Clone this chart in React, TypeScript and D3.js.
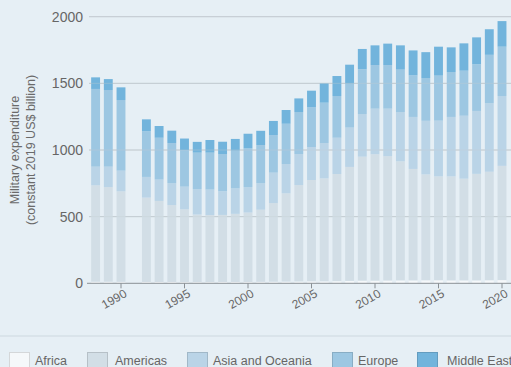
import React from "react";
import * as d3 from "d3";

const years = [1988, 1989, 1990, 1992, 1993, 1994, 1995, 1996, 1997, 1998, 1999, 2000, 2001, 2002, 2003, 2004, 2005, 2006, 2007, 2008, 2009, 2010, 2011, 2012, 2013, 2014, 2015, 2016, 2017, 2018, 2019, 2020];
const africa = [12, 12, 11, 10, 10, 10, 9, 9, 9, 10, 10, 10, 11, 12, 13, 14, 15, 15, 16, 18, 20, 20, 21, 22, 22, 23, 23, 22, 22, 22, 23, 24];
const americas = [723, 710, 679, 633, 608, 577, 546, 507, 503, 503, 511, 521, 541, 590, 662, 723, 760, 772, 804, 855, 930, 948, 933, 893, 836, 794, 779, 780, 763, 799, 814, 857];
const asiaOceania = [140, 153, 155, 155, 160, 165, 170, 191, 191, 177, 191, 191, 200, 228, 220, 233, 247, 265, 272, 295, 320, 342, 356, 370, 390, 402, 418, 446, 472, 472, 515, 524];
const europe = [583, 575, 530, 342, 314, 300, 275, 273, 277, 280, 283, 290, 285, 282, 302, 315, 300, 303, 313, 330, 336, 327, 327, 318, 312, 321, 338, 337, 338, 350, 362, 370];
const middleEast = [87, 82, 95, 90, 88, 93, 86, 81, 95, 92, 88, 110, 107, 106, 103, 102, 123, 145, 150, 142, 152, 148, 161, 182, 187, 194, 217, 185, 205, 202, 192, 192];

const seriesNames = ["Africa", "Americas", "Asia and Oceania", "Europe", "Middle East"];
const seriesColors = ["#f5f8fa", "#d2dee6", "#bad4e7", "#9dc7e2", "#72b4dc"];
const yTicks = [0, 500, 1000, 1500, 2000];
const xTickYears = [1990, 1995, 2000, 2005, 2010, 2015, 2020];
const yTitle = ["Military expenditure", "(constant 2019 US$ billion)"];

const W = 511;
const H = 367;
const FONT = "'Liberation Sans', Arial, sans-serif";

export default function App() {
  const rows = years.map((y, i) => ({
    year: y,
    Africa: africa[i],
    Americas: americas[i],
    "Asia and Oceania": asiaOceania[i],
    Europe: europe[i],
    "Middle East": middleEast[i],
  }));
  const stacked = d3.stack<any>().keys(seriesNames)(rows);

  const x = d3
    .scaleBand<number>()
    .domain(d3.range(1988, 2021))
    .range([89.25, 508.35])
    .paddingInner(0.3)
    .paddingOuter(0.15);
  const y = d3.scaleLinear().domain([0, 2000]).range([283.3, 16.7]);
  const cx = (yr: number) => (x(yr) as number) + x.bandwidth() / 2;

  const legendBox = [9, 87, 187, 332, 417];
  const legendText = [35, 115, 213, 358, 447];

  return (
    <svg
      width={W}
      height={H}
      style={{ position: "absolute", left: 0, top: 0, display: "block" }}
      fontFamily={FONT}
    >
      <rect x={0} y={0} width={W} height={H} fill="#e6eff5" />
      {yTicks.slice(1).map((t) => (
        <line key={"g" + t} x1={89} x2={W} y1={y(t)} y2={y(t)} stroke="#c3ccd2" strokeWidth={1} />
      ))}
      {stacked.map((s, si) => (
        <g key={s.key} fill={seriesColors[si]}>
          {s.map((d: any) => (
            <rect
              key={d.data.year}
              x={x(d.data.year)}
              width={x.bandwidth()}
              y={y(d[1])}
              height={Math.max(0, y(d[0]) - y(d[1]))}
            />
          ))}
        </g>
      ))}
      {yTicks.slice(1).map((t) => (
        <line key={"go" + t} x1={89} x2={W} y1={y(t)} y2={y(t)} stroke="#c3ccd2" strokeOpacity={0.35} strokeWidth={1} />
      ))}
      <line x1={87} x2={W} y1={y(0)} y2={y(0)} stroke="#8a9095" strokeWidth={1} />
      {xTickYears.map((t) => (
        <g key={"xt" + t}>
          <line x1={cx(t)} x2={cx(t)} y1={y(0)} y2={y(0) + 5} stroke="#8a9095" strokeWidth={1} />
          <text
            transform={`translate(${cx(t) - 7},${299}) rotate(-30)`}
            textAnchor="middle"
            dy="0.35em"
            fontSize={12}
            fill="#666"
          >
            {t}
          </text>
        </g>
      ))}
      {yTicks.map((t) => (
        <text key={"yt" + t} x={83} y={y(t)} dy="0.35em" textAnchor="end" fontSize={14} fill="#666">
          {t}
        </text>
      ))}
      {yTitle.map((line, i) => (
        <text
          key={"yl" + i}
          transform={`translate(${19 + i * 16},150) rotate(-90)`}
          textAnchor="middle"
          fontSize={12.5}
          fill="#6a6a6a"
        >
          {line}
        </text>
      ))}
      <line x1={0} x2={W} y1={336} y2={336} stroke="#cdd8df" strokeWidth={1} />
      {seriesNames.map((n, i) => (
        <g key={"lg" + n}>
          <rect
            x={legendBox[i] + 0.5}
            y={352.5}
            width={20}
            height={20}
            fill={seriesColors[i]}
            stroke={d3.color(seriesColors[i])!.darker(0.4).formatHex()}
            strokeWidth={1}
          />
          <text x={legendText[i]} y={365} fontSize={12.5} fill="#666">
            {n}
          </text>
        </g>
      ))}
    </svg>
  );
}
